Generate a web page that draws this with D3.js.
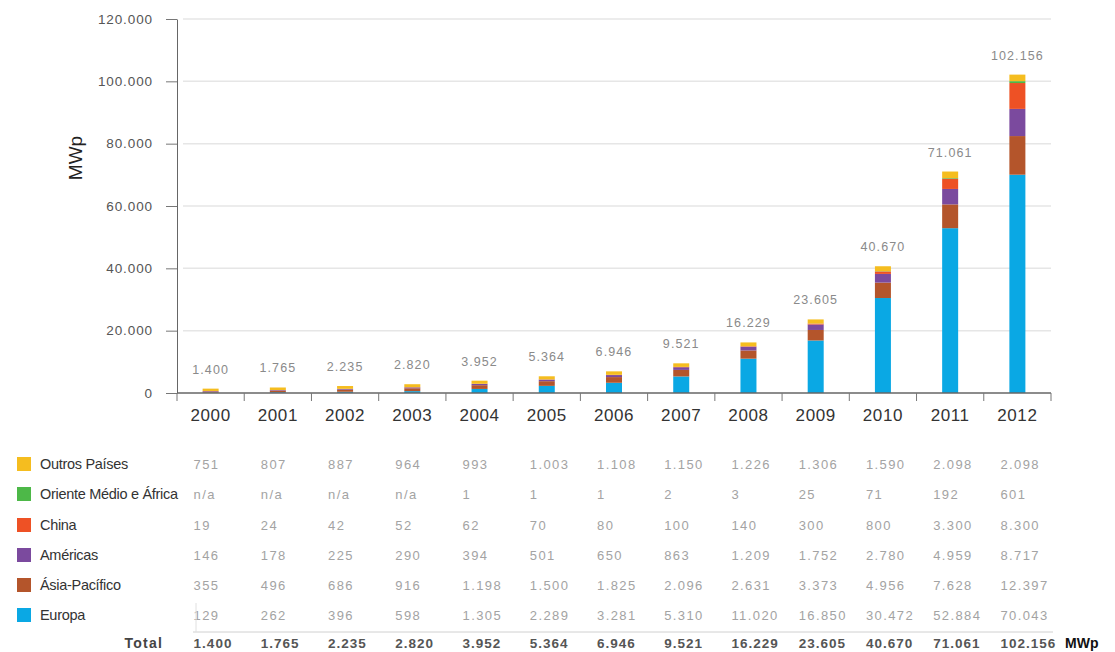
<!DOCTYPE html>
<html>
<head>
<meta charset="utf-8">
<script src="https://cdn.jsdelivr.net/npm/d3@7"></script>
<style>
  html, body { margin: 0; padding: 0; background: #fff; }
  svg { display: block; font-family: "Liberation Sans", Arial, Helvetica, sans-serif; }
</style>
</head>
<body>
<svg id="chart" width="1115" height="652"></svg>
<script>
// ---- data ----
const years = ["2000","2001","2002","2003","2004","2005","2006","2007","2008","2009","2010","2011","2012"];
const seriesNames = ["Europa","Ásia-Pacífico","Américas","China","Oriente Médio e África","Outros Países"];
const seriesColors = ["#0aa8e4","#b4552b","#7b4a9e","#ee5125","#4db848","#f5bd1f"];
const europa   = [129,262,396,598,1305,2289,3281,5310,11020,16850,30472,52884,70043];
const asiaPac  = [355,496,686,916,1198,1500,1825,2096,2631,3373,4956,7628,12397];
const americas = [146,178,225,290,394,501,650,863,1209,1752,2780,4959,8717];
const china    = [19,24,42,52,62,70,80,100,140,300,800,3300,8300];
const oriente  = [null,null,null,null,1,1,1,2,3,25,71,192,601];
const outros   = [751,807,887,964,993,1003,1108,1150,1226,1306,1590,2098,2098];
const totals   = [1400,1765,2235,2820,3952,5364,6946,9521,16229,23605,40670,71061,102156];
const yTicks   = [0,20000,40000,60000,80000,100000,120000];
const seriesValues = [europa, asiaPac, americas, china, oriente, outros];

// ---- setup ----
const svg = d3.select("#chart");
const loc = d3.formatLocale({decimal: ",", thousands: ".", grouping: [3], currency: ["", ""]});
const fmt = loc.format(",d");

const x = d3.scaleBand().domain(years).range([177, 1051]).padding(0);
const y = d3.scaleLinear().domain([0, 120000]).range([393, 19]);
const barW = 16;

// gridlines
svg.append("g").selectAll("line").data(yTicks.filter(d => d > 0)).join("line")
  .attr("x1", 183).attr("x2", 1051)
  .attr("y1", d => y(d)).attr("y2", d => y(d))
  .attr("stroke", "#e6e6e6").attr("stroke-width", 1.5);

// y axis
const yAxis = svg.append("g").attr("transform", "translate(177,0)")
  .call(d3.axisLeft(y).tickValues(yTicks).tickFormat(fmt).tickSize(11).tickSizeOuter(0).tickPadding(13));
yAxis.select(".domain").attr("stroke", "#666");
yAxis.selectAll(".tick line").attr("stroke", "#777");
yAxis.selectAll("text").attr("font-size", 13.5).attr("fill", "#555").attr("letter-spacing", 0.9);

// y title
svg.append("text").attr("transform", "translate(82,158) rotate(-90)")
  .attr("text-anchor", "middle").attr("font-size", 19).attr("fill", "#222").text("MWp");

// stacked bars
const rows = years.map((yr, i) => {
  const o = {year: yr};
  seriesNames.forEach((s, k) => o[s] = seriesValues[k][i] || 0);
  return o;
});
const stack = d3.stack().keys(seriesNames)(rows);
svg.append("g").selectAll("g").data(stack).join("g")
  .attr("fill", (d, k) => seriesColors[k])
  .selectAll("rect").data(d => d).join("rect")
  .attr("x", d => x(d.data.year) + x.bandwidth() / 2 - barW / 2)
  .attr("width", barW)
  .attr("y", d => y(d[1]))
  .attr("height", d => Math.max(0, y(d[0]) - y(d[1])));

// total labels above bars
svg.append("g").selectAll("text").data(years).join("text")
  .attr("x", d => x(d) + x.bandwidth() / 2)
  .attr("y", (d, i) => y(totals[i]) - 15)
  .attr("text-anchor", "middle").attr("font-size", 12.5).attr("fill", "#8a8a8a")
  .attr("letter-spacing", 1.1)
  .text((d, i) => fmt(totals[i]));

// x axis
svg.append("line").attr("x1", 177).attr("x2", 1051).attr("y1", 393).attr("y2", 393)
  .attr("stroke", "#666").attr("stroke-width", 1.5);
const bounds = years.map(d => x(d)).concat([x.range()[1]]);
svg.append("g").selectAll("line").data(bounds).join("line")
  .attr("x1", d => d).attr("x2", d => d).attr("y1", 393).attr("y2", 401)
  .attr("stroke", "#777");
svg.append("g").selectAll("text").data(years).join("text")
  .attr("x", d => x(d) + x.bandwidth() / 2).attr("y", 421)
  .attr("text-anchor", "middle").attr("font-size", 17).attr("fill", "#333")
  .attr("letter-spacing", 0.6).text(d => d);

// ---- table ----
const tableOrder = [5, 4, 3, 2, 1, 0]; // Outros ... Europa
const rowY = [464, 494, 525, 555, 585, 615];
const tbl = svg.append("g");
tableOrder.forEach((k, r) => {
  const cy = rowY[r];
  tbl.append("rect").attr("x", 17).attr("y", cy - 7).attr("width", 14).attr("height", 14)
    .attr("fill", seriesColors[k]);
  tbl.append("text").attr("x", 40).attr("y", cy + 5).attr("font-size", 14.5).attr("fill", "#333")
    .attr("letter-spacing", -0.3).text(seriesNames[k]);
  tbl.append("g").selectAll("text").data(years).join("text")
    .attr("x", d => x(d) + x.bandwidth() / 2 - 17)
    .attr("y", cy + 5).attr("font-size", 13).attr("fill", "#a3a3a3")
    .attr("letter-spacing", 1.4)
    .text((d, i) => seriesValues[k][i] == null ? "n/a" : fmt(seriesValues[k][i]));
});
// separator
tbl.append("line").attr("x1", 193).attr("x2", 1053).attr("y1", 632).attr("y2", 632)
  .attr("stroke", "#d0d0d0");
tbl.append("line").attr("x1", 196).attr("x2", 196).attr("y1", 603).attr("y2", 632)
  .attr("stroke", "#e0e0e0");
// total row
tbl.append("text").attr("x", 163).attr("y", 648).attr("text-anchor", "end")
  .attr("font-size", 14).attr("font-weight", "bold").attr("fill", "#444").attr("letter-spacing", 1.2)
  .text("Total");
tbl.append("g").selectAll("text").data(years).join("text")
  .attr("x", d => x(d) + x.bandwidth() / 2 - 17)
  .attr("y", 648).attr("font-size", 13.5).attr("font-weight", "bold").attr("fill", "#555")
  .attr("letter-spacing", 1)
  .text((d, i) => fmt(totals[i]));
tbl.append("text").attr("x", 1065).attr("y", 648).attr("font-size", 14).attr("font-weight", "bold")
  .attr("fill", "#111").text("MWp");
</script>
</body>
</html>
